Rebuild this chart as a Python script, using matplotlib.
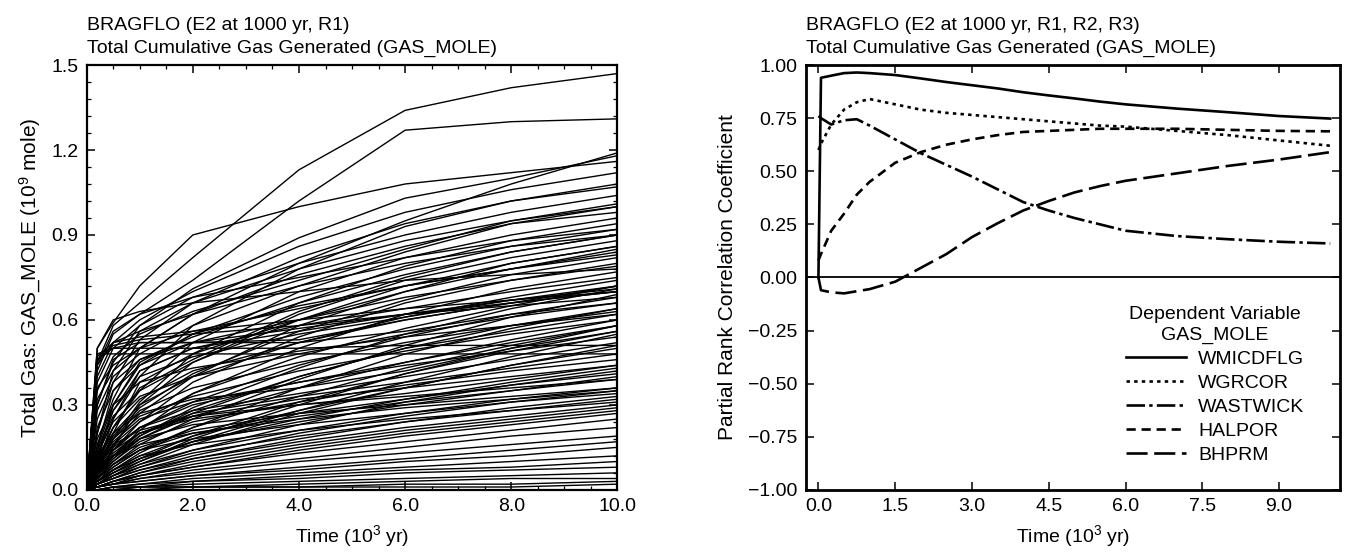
import matplotlib
matplotlib.use("Agg")
import matplotlib.pyplot as plt
from matplotlib.ticker import MultipleLocator, FormatStrFormatter, FuncFormatter

plt.rcParams["font.family"] = ["Liberation Sans", "DejaVu Sans"]
plt.rcParams["mathtext.default"] = "regular"

# ---- left panel: cumulative gas, one row per realization ----
GAS_TIME = [0, 0.2, 0.5, 1, 2, 4, 6, 8, 10]

GAS_FAST = [
    [0, 0.45, 0.58, 0.66, 0.82, 1.13, 1.34, 1.42, 1.47],
    [0, 0.50, 0.59, 0.72, 0.90, 1.00, 1.08, 1.12, 1.16],
    [0, 0.42, 0.55, 0.62, 0.74, 1.02, 1.27, 1.30, 1.31],
    [0, 0.48, 0.48, 0.48, 0.48, 0.48, 0.48, 0.48, 0.48],
    [0, 0.50, 0.60, 0.63, 0.66, 0.70, 0.74, 0.76, 0.78],
    [0, 0.47, 0.52, 0.56, 0.62, 0.72, 0.80, 0.86, 0.90],
    [0, 0.46, 0.50, 0.52, 0.52, 0.53, 0.60, 0.66, 0.70],
    [0, 0.40, 0.52, 0.60, 0.70, 0.86, 0.98, 1.06, 1.12],
    [0, 0.38, 0.50, 0.58, 0.68, 0.80, 0.90, 0.98, 1.04],
    [0, 0.44, 0.56, 0.62, 0.68, 0.75, 0.82, 0.88, 0.92],
    [0, 0.35, 0.47, 0.55, 0.63, 0.74, 0.85, 0.95, 1.01],
    [0, 0.30, 0.45, 0.58, 0.71, 0.89, 1.03, 1.10, 1.18],
    [0, 0.32, 0.42, 0.50, 0.62, 0.80, 0.95, 1.08, 1.19],
    [0, 0.28, 0.40, 0.48, 0.58, 0.72, 0.84, 0.94, 1.00],
    [0, 0.44, 0.52, 0.54, 0.56, 0.60, 0.64, 0.67, 0.70],
    [0, 0.36, 0.44, 0.50, 0.56, 0.64, 0.72, 0.78, 0.84],
    [0, 0.25, 0.38, 0.46, 0.54, 0.66, 0.76, 0.84, 0.90],
    [0, 0.22, 0.35, 0.44, 0.52, 0.60, 0.68, 0.74, 0.79],
    [0, 0.46, 0.51, 0.53, 0.55, 0.58, 0.62, 0.65, 0.68],
    [0, 0.20, 0.38, 0.53, 0.66, 0.82, 0.94, 1.02, 1.07],
    [0, 0.48, 0.50, 0.50, 0.50, 0.50, 0.51, 0.51, 0.51],
    [0, 0.30, 0.46, 0.52, 0.52, 0.52, 0.56, 0.62, 0.66],
    [0, 0.20, 0.42, 0.56, 0.66, 0.78, 0.88, 0.95, 1.00],
    [0, 0.16, 0.32, 0.50, 0.62, 0.76, 0.86, 0.94, 0.98],
]

GAS_MEDIUM = [
    [0, 0.12, 0.25, 0.40, 0.58, 0.78, 0.93, 1.02, 1.08],
    [0, 0.10, 0.22, 0.35, 0.52, 0.70, 0.82, 0.90, 0.96],
    [0, 0.15, 0.30, 0.44, 0.55, 0.65, 0.72, 0.78, 0.83],
    [0, 0.10, 0.20, 0.30, 0.45, 0.62, 0.74, 0.82, 0.88],
    [0, 0.08, 0.18, 0.31, 0.48, 0.66, 0.79, 0.88, 0.94],
    [0, 0.14, 0.28, 0.42, 0.50, 0.56, 0.62, 0.67, 0.71],
    [0, 0.09, 0.19, 0.29, 0.41, 0.56, 0.67, 0.76, 0.82],
    [0, 0.11, 0.22, 0.32, 0.42, 0.52, 0.60, 0.66, 0.72],
    [0, 0.07, 0.16, 0.27, 0.40, 0.58, 0.70, 0.80, 0.86],
    [0, 0.13, 0.24, 0.33, 0.40, 0.48, 0.55, 0.61, 0.66],
    [0, 0.06, 0.14, 0.24, 0.38, 0.54, 0.66, 0.74, 0.80],
    [0, 0.08, 0.16, 0.24, 0.34, 0.47, 0.57, 0.65, 0.72],
    [0, 0.10, 0.18, 0.26, 0.33, 0.42, 0.49, 0.55, 0.60],
    [0, 0.05, 0.12, 0.21, 0.34, 0.50, 0.62, 0.71, 0.77],
    [0, 0.07, 0.14, 0.22, 0.31, 0.44, 0.54, 0.62, 0.68],
    [0, 0.09, 0.17, 0.25, 0.31, 0.38, 0.45, 0.52, 0.58],
    [0, 0.06, 0.12, 0.19, 0.28, 0.40, 0.50, 0.58, 0.64],
    [0, 0.12, 0.20, 0.27, 0.32, 0.36, 0.42, 0.50, 0.56],
    [0, 0.05, 0.11, 0.18, 0.26, 0.36, 0.45, 0.53, 0.60],
    [0, 0.08, 0.15, 0.22, 0.28, 0.34, 0.40, 0.46, 0.52],
    [0, 0.04, 0.09, 0.16, 0.25, 0.39, 0.51, 0.61, 0.69],
    [0, 0.06, 0.13, 0.20, 0.27, 0.33, 0.38, 0.43, 0.48],
    [0, 0.05, 0.10, 0.17, 0.24, 0.31, 0.37, 0.42, 0.46],
    [0, 0.07, 0.14, 0.20, 0.25, 0.30, 0.34, 0.39, 0.44],
    [0, 0.04, 0.08, 0.14, 0.22, 0.33, 0.43, 0.51, 0.58],
    [0, 0.03, 0.07, 0.13, 0.22, 0.36, 0.48, 0.57, 0.64],
    [0, 0.04, 0.09, 0.15, 0.21, 0.27, 0.32, 0.37, 0.41],
    [0, 0.06, 0.12, 0.18, 0.23, 0.27, 0.30, 0.33, 0.36],
    [0, 0.03, 0.07, 0.12, 0.19, 0.28, 0.36, 0.44, 0.50],
    [0, 0.10, 0.30, 0.45, 0.55, 0.68, 0.78, 0.86, 0.92],
    [0, 0.08, 0.25, 0.42, 0.50, 0.58, 0.64, 0.70, 0.75],
    [0, 0.06, 0.20, 0.38, 0.48, 0.60, 0.70, 0.78, 0.85],
    [0, 0.15, 0.35, 0.46, 0.52, 0.57, 0.62, 0.66, 0.70],
    [0, 0.12, 0.28, 0.40, 0.47, 0.55, 0.61, 0.67, 0.72],
    [0, 0.05, 0.15, 0.30, 0.40, 0.52, 0.61, 0.68, 0.74],
    [0, 0.10, 0.22, 0.36, 0.46, 0.63, 0.75, 0.84, 0.90],
    [0, 0.18, 0.30, 0.38, 0.43, 0.49, 0.54, 0.58, 0.62],
    [0, 0.08, 0.18, 0.28, 0.36, 0.45, 0.52, 0.58, 0.63],
    [0, 0.14, 0.26, 0.35, 0.45, 0.60, 0.72, 0.80, 0.86],
]

GAS_SLOW = [
    [0, 0.02, 0.05, 0.09, 0.16, 0.27, 0.36, 0.44, 0.51],
    [0, 0.02, 0.04, 0.08, 0.14, 0.23, 0.31, 0.37, 0.42],
    [0, 0.02, 0.04, 0.07, 0.12, 0.20, 0.26, 0.31, 0.35],
    [0, 0.01, 0.03, 0.06, 0.11, 0.18, 0.24, 0.29, 0.33],
    [0, 0.02, 0.04, 0.07, 0.11, 0.17, 0.22, 0.26, 0.30],
    [0, 0.01, 0.03, 0.05, 0.09, 0.15, 0.20, 0.24, 0.28],
    [0, 0.01, 0.02, 0.05, 0.08, 0.14, 0.19, 0.23, 0.27],
    [0, 0.01, 0.03, 0.05, 0.08, 0.13, 0.17, 0.21, 0.25],
    [0, 0.01, 0.02, 0.04, 0.07, 0.11, 0.15, 0.19, 0.22],
    [0, 0.01, 0.02, 0.04, 0.06, 0.10, 0.13, 0.16, 0.19],
    [0, 0.01, 0.02, 0.03, 0.05, 0.08, 0.11, 0.14, 0.17],
    [0, 0.01, 0.02, 0.03, 0.05, 0.07, 0.10, 0.12, 0.15],
    [0, 0.00, 0.01, 0.02, 0.04, 0.06, 0.08, 0.10, 0.12],
    [0, 0.00, 0.01, 0.02, 0.03, 0.05, 0.07, 0.08, 0.10],
    [0, 0.00, 0.01, 0.01, 0.03, 0.04, 0.06, 0.07, 0.08],
    [0, 0.00, 0.01, 0.01, 0.02, 0.03, 0.04, 0.05, 0.06],
    [0, 0.00, 0.00, 0.01, 0.01, 0.02, 0.03, 0.04, 0.04],
    [0, 0.00, 0.00, 0.01, 0.01, 0.01, 0.02, 0.02, 0.03],
    [0, 0.00, 0.00, 0.00, 0.01, 0.01, 0.01, 0.01, 0.02],
    [0, 0.01, 0.03, 0.06, 0.10, 0.16, 0.21, 0.25, 0.29],
    [0, 0.02, 0.05, 0.09, 0.14, 0.21, 0.27, 0.32, 0.36],
    [0, 0.03, 0.06, 0.10, 0.17, 0.28, 0.38, 0.47, 0.55],
    [0, 0.02, 0.05, 0.08, 0.13, 0.19, 0.24, 0.28, 0.32],
    [0, 0.03, 0.07, 0.11, 0.17, 0.25, 0.32, 0.38, 0.43],
    [0, 0.03, 0.06, 0.11, 0.19, 0.31, 0.41, 0.49, 0.56],
    [0, 0.06, 0.14, 0.22, 0.30, 0.38, 0.44, 0.49, 0.54],
    [0, 0.04, 0.10, 0.18, 0.27, 0.40, 0.50, 0.56, 0.62],
    [0, 0.05, 0.12, 0.20, 0.26, 0.32, 0.36, 0.40, 0.44],
    [0, 0.03, 0.08, 0.14, 0.20, 0.26, 0.31, 0.35, 0.39],
    [0, 0.09, 0.16, 0.21, 0.26, 0.30, 0.33, 0.36, 0.39],
    [0, 0.04, 0.09, 0.14, 0.18, 0.23, 0.27, 0.31, 0.34],
    [0, 0.02, 0.06, 0.11, 0.17, 0.24, 0.30, 0.35, 0.40],
    [0, 0.07, 0.12, 0.16, 0.20, 0.25, 0.29, 0.32, 0.35],
    [0, 0.03, 0.07, 0.12, 0.16, 0.21, 0.25, 0.28, 0.31],
    [0, 0.05, 0.11, 0.19, 0.29, 0.43, 0.55, 0.64, 0.71],
    [0, 0.02, 0.05, 0.10, 0.18, 0.30, 0.41, 0.50, 0.58],
]

# ---- right panel: partial rank correlation coefficients ----
PRCC_TIME = [0, 0.05, 0.25, 0.5, 0.75, 1.0, 1.5, 2.0, 2.5, 3.0, 3.5,
             4.0, 4.5, 5.0, 5.5, 6.0, 7.0, 8.0, 9.0, 10.0]
WMICDFLG = [0.0, 0.94, 0.95, 0.962, 0.965, 0.962, 0.953, 0.937, 0.92, 0.905, 0.89,
            0.872, 0.857, 0.843, 0.828, 0.815, 0.795, 0.778, 0.76, 0.748]
WGRCOR = [0.60, 0.63, 0.72, 0.79, 0.825, 0.84, 0.815, 0.79, 0.775, 0.765, 0.755,
          0.745, 0.735, 0.725, 0.715, 0.71, 0.69, 0.67, 0.645, 0.62]
WASTWICK = [0.76, 0.75, 0.72, 0.74, 0.745, 0.715, 0.65, 0.585, 0.53, 0.475, 0.415,
            0.355, 0.315, 0.28, 0.25, 0.22, 0.195, 0.18, 0.168, 0.16]
HALPOR = [0.08, 0.11, 0.22, 0.30, 0.39, 0.45, 0.54, 0.59, 0.625, 0.65, 0.67,
          0.685, 0.69, 0.695, 0.70, 0.70, 0.70, 0.695, 0.69, 0.688]
BHPRM = [0.0, -0.06, -0.07, -0.075, -0.065, -0.055, -0.02, 0.045, 0.11, 0.19, 0.255,
         0.315, 0.36, 0.40, 0.43, 0.455, 0.49, 0.525, 0.555, 0.59]

PRCC_SERIES = ["WMICDFLG", "WGRCOR", "WASTWICK", "HALPOR", "BHPRM"]
PRCC_VALUES = [WMICDFLG, WGRCOR, WASTWICK, HALPOR, BHPRM]
PRCC_DASHES = [None, (1.3, 1.6), (7, 1.6, 1.3, 1.6), (3.5, 2.2), (8, 2.5)]

FS = 14
FS_YLAB = 15

fig = plt.figure(figsize=(13.54, 5.56), dpi=100)
ax1 = fig.add_axes([0.064, 0.119, 0.392, 0.764])
ax2 = fig.add_axes([0.595, 0.119, 0.395, 0.764])


def style_axes(ax, lw):
    for sp in ax.spines.values():
        sp.set_linewidth(lw)
    ax.tick_params(which="both", direction="in", top=True, right=True,
                   labelsize=FS, pad=6)
    ax.tick_params(which="major", length=6, width=1.1)
    ax.tick_params(which="minor", length=3, width=0.9)


# left panel
for group in (GAS_FAST, GAS_MEDIUM, GAS_SLOW):
    for row in group:
        ax1.plot(GAS_TIME, row, color="black", lw=1.0)
ax1.set_xlim(0, 10)
ax1.set_ylim(0, 1.5)
ax1.xaxis.set_major_locator(MultipleLocator(2))
ax1.xaxis.set_minor_locator(MultipleLocator(0.5))
ax1.yaxis.set_major_locator(MultipleLocator(0.3))
ax1.yaxis.set_minor_locator(MultipleLocator(0.06))
ax1.xaxis.set_major_formatter(FormatStrFormatter("%.1f"))
ax1.yaxis.set_major_formatter(FormatStrFormatter("%.1f"))
style_axes(ax1, 1.6)
ax1.set_xlabel("Time (10$^3$ yr)", fontsize=FS, labelpad=6)
ax1.set_ylabel("Total Gas: GAS_MOLE (10$^9$ mole)", fontsize=FS_YLAB, labelpad=6)
ax1.set_title("BRAGFLO (E2 at 1000 yr, R1)\nTotal Cumulative Gas Generated (GAS_MOLE)",
              loc="left", fontsize=FS, pad=9, linespacing=1.4)

# right panel
handles = []
for name, vals, dash in zip(PRCC_SERIES, PRCC_VALUES, PRCC_DASHES):
    (ln,) = ax2.plot(PRCC_TIME, vals, color="black", lw=1.9, label=name)
    if dash is not None:
        ln.set_dashes(dash)
    handles.append(ln)
ax2.axhline(0, color="black", lw=1.3)
ax2.set_xlim(-0.25, 10.2)
ax2.set_ylim(-1, 1)
ax2.set_xticks([0, 1.5, 3.0, 4.5, 6.0, 7.5, 9.0])
ax2.yaxis.set_major_locator(MultipleLocator(0.25))
ax2.xaxis.set_major_formatter(FormatStrFormatter("%.1f"))
ax2.yaxis.set_major_formatter(FuncFormatter(lambda v, p: f"{v:.2f}".replace("-", "\u2212")))
style_axes(ax2, 2.0)
ax2.set_xlabel("Time (10$^3$ yr)", fontsize=FS, labelpad=6)
ax2.set_ylabel("Partial Rank Correlation Coefficient", fontsize=FS_YLAB, labelpad=8)
ax2.set_title("BRAGFLO (E2 at 1000 yr, R1, R2, R3)\nTotal Cumulative Gas Generated (GAS_MOLE)",
              loc="left", fontsize=FS, pad=9, linespacing=1.4)
leg = ax2.legend(handles=handles, title="Dependent Variable\nGAS_MOLE",
                 loc="lower right", bbox_to_anchor=(0.965, 0.02), frameon=False,
                 fontsize=FS, title_fontsize=FS, handlelength=3.1,
                 handletextpad=0.6, labelspacing=0.33)
leg.get_title().set_multialignment("center")
leg.get_title().set_linespacing(1.3)

fig.savefig("out.png", dpi=100)
